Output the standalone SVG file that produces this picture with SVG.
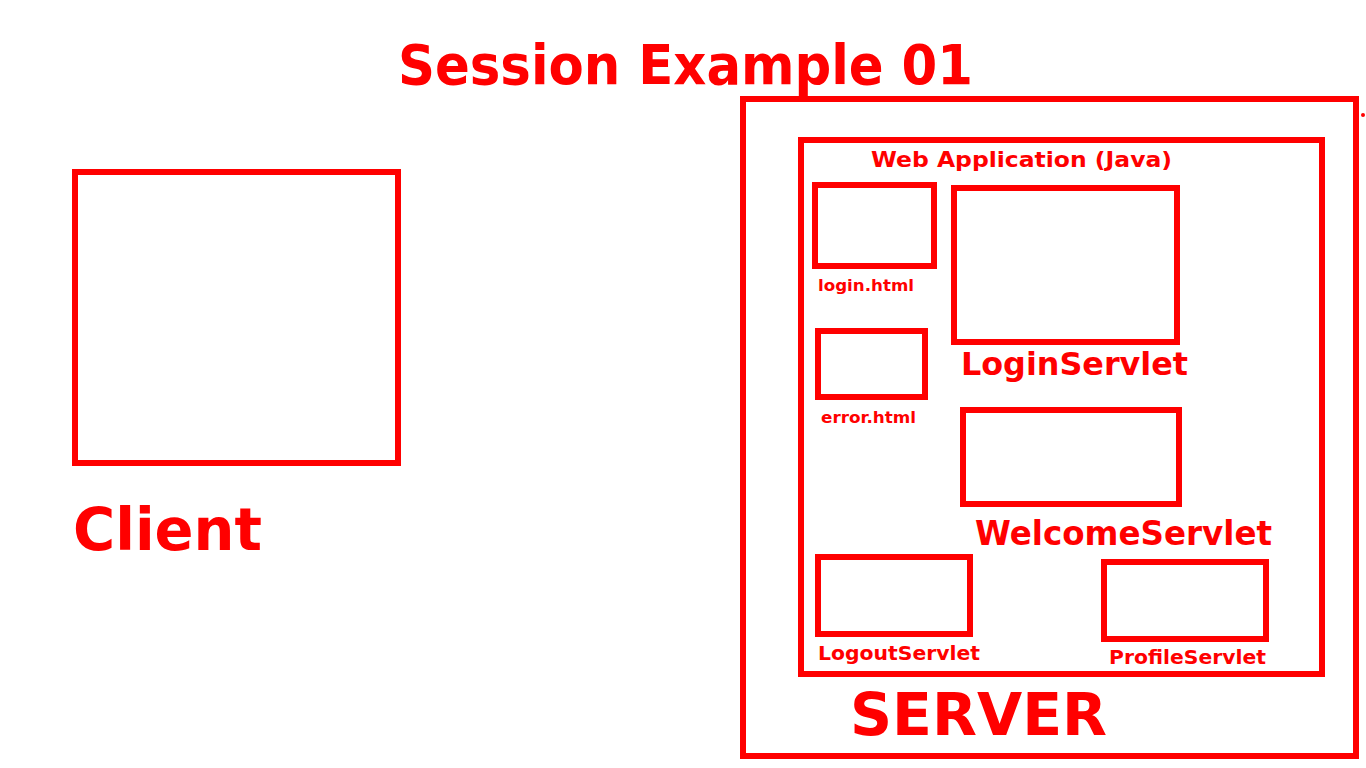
<svg xmlns="http://www.w3.org/2000/svg" width="1366" height="768" viewBox="0 0 1366 768">
<style>
.box{fill:none;stroke:#ff0000;stroke-width:6}
text{fill:#ff0000;font-family:"DejaVu Sans","Liberation Sans",sans-serif;font-weight:bold}
</style>
<rect width="1366" height="768" fill="#ffffff"/>
<text transform="translate(398,84) scale(1,1.09)" x="0" y="0" font-size="51" textLength="575" lengthAdjust="spacingAndGlyphs">Session Example 01</text>
<g id="client">
<rect class="box" x="75" y="172" width="323" height="291"/>
<text x="73" y="550" font-size="58" textLength="189" lengthAdjust="spacingAndGlyphs">Client</text>
</g>
<g id="server">
<rect class="box" x="743" y="99" width="613" height="657"/>
<text x="850" y="735" font-size="59" textLength="257" lengthAdjust="spacingAndGlyphs">SERVER</text>
<circle cx="1363" cy="115" r="2" fill="#ff0000"/>
</g>
<g id="webapp">
<rect class="box" x="801" y="140" width="521" height="534"/>
<text x="871" y="167" font-size="22" textLength="301" lengthAdjust="spacingAndGlyphs">Web Application (Java)</text>
</g>
<g id="login-html">
<rect class="box" x="815" y="185" width="119" height="81"/>
<text x="818" y="291" font-size="16" textLength="96" lengthAdjust="spacingAndGlyphs">login.html</text>
</g>
<g id="login-servlet">
<rect class="box" x="954" y="188" width="223" height="154"/>
<text x="961" y="375" font-size="32" textLength="227" lengthAdjust="spacingAndGlyphs">LoginServlet</text>
</g>
<g id="error-html">
<rect class="box" x="818" y="331" width="107" height="66"/>
<text x="821" y="423" font-size="16" textLength="95" lengthAdjust="spacingAndGlyphs">error.html</text>
</g>
<g id="welcome-servlet">
<rect class="box" x="963" y="410" width="216" height="94"/>
<text x="975" y="545" font-size="33" textLength="297" lengthAdjust="spacingAndGlyphs">WelcomeServlet</text>
</g>
<g id="logout-servlet">
<rect class="box" x="818" y="557" width="152" height="77"/>
<text x="818" y="660" font-size="19" textLength="162" lengthAdjust="spacingAndGlyphs">LogoutServlet</text>
</g>
<g id="profile-servlet">
<rect class="box" x="1104" y="562" width="162" height="77"/>
<text x="1109" y="664" font-size="19" textLength="157" lengthAdjust="spacingAndGlyphs">ProfileServlet</text>
</g>
<g id="connectors"></g>
</svg>
